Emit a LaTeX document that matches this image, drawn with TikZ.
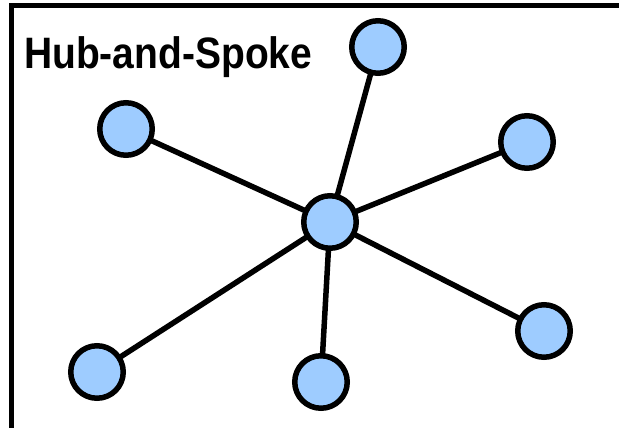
\documentclass[tikz,border=0pt]{standalone}
\usepackage{fontspec}
\setmainfont{Liberation Sans}
\definecolor{spokefill}{RGB}{158,204,255}
\begin{document}
\begin{tikzpicture}[x=1pt,y=-1pt,
  spoke/.style={circle,draw=black,fill=spokefill,line width=5.5pt,inner sep=0pt,minimum size=52.5pt},
  link/.style={line width=5.5pt,draw=black},
  frame/.style={line width=5pt,draw=black}]
  \useasboundingbox (0,0) rectangle (619,428);
  \clip (0,0) rectangle (619,428);
  % outer frame (left and top edges)
  \coordinate (fb) at (11.5,440);
  \coordinate (fc) at (11.5,5.3);
  \coordinate (fr) at (630,5.3);
  \draw[frame] (fb) -- (fc) -- (fr);
  % title
  \node[anchor=base west,inner sep=0pt,font=\bfseries\fontsize{44}{44}\selectfont,xscale=0.886] (title) at (24,68.5) {Hub-and-Spoke};
  % hub and spokes
  \coordinate (h) at (330,222);
  \coordinate (p1) at (378,47);
  \coordinate (p2) at (126,129);
  \coordinate (p3) at (527,142);
  \coordinate (p4) at (97,372);
  \coordinate (p5) at (321,382);
  \coordinate (p6) at (544,331);
  \foreach \p in {p1,p2,p3,p4,p5,p6} \draw[link] (h) -- (\p);
  \node[spoke] (hub) at (h) {};
  \node[spoke] (n1) at (p1) {};
  \node[spoke] (n2) at (p2) {};
  \node[spoke] (n3) at (p3) {};
  \node[spoke] (n4) at (p4) {};
  \node[spoke] (n5) at (p5) {};
  \node[spoke] (n6) at (p6) {};
\end{tikzpicture}
\end{document}
